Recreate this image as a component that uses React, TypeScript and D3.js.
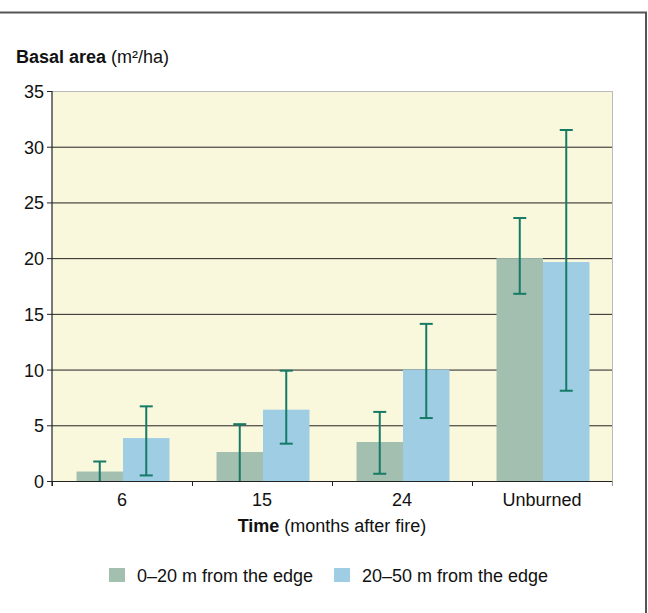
import { useEffect, useRef } from 'react'
import * as d3 from 'd3'

const CATEGORIES = ['6', '15', '24', 'Unburned']
const SERIES = ['0–20 m from the edge', '20–50 m from the edge']
const COLORS = ['#a3bfb0', '#9ecde4']

// mean, lower error bound, upper error bound per category
const NEAR_EDGE = [0.85, 2.6, 3.5, 20.0]
const NEAR_LOW = [0, 0, 0.65, 16.8]
const NEAR_HIGH = [1.75, 5.1, 6.2, 23.6]

const FAR_EDGE = [3.85, 6.4, 10.0, 19.65]
const FAR_LOW = [0.5, 3.35, 5.65, 8.1]
const FAR_HIGH = [6.7, 9.9, 14.1, 31.5]

const Y_TICKS = [0, 5, 10, 15, 20, 25, 30, 35]

const W = 648
const H = 613
const FONT = '"Liberation Sans", Arial, Helvetica, sans-serif'
const FS = 18

export default function App() {
  const svgRef = useRef<SVGSVGElement>(null)

  useEffect(() => {
    if (!svgRef.current) return
    const svg = d3.select(svgRef.current)
    svg.selectAll('*').remove()

    const left = 52
    const right = 612
    const top = 91
    const bottom = 481

    const x = d3.scaleBand<string>().domain(CATEGORIES).range([left, right]).paddingInner(0).paddingOuter(0)
    const inner = d3.scaleBand<number>().domain([0, 1]).range([0, 93]).padding(0)
    const y = d3.scaleLinear().domain([0, 35]).range([bottom, top])
    const groupX = (c: string) => x(c)! + (x.bandwidth() - 93) / 2 + 1

    // frame
    svg.append('path')
      .attr('d', `M0,12.5 H646 V${H}`)
      .attr('fill', 'none')
      .attr('stroke', '#555')
      .attr('stroke-width', 2)

    // plot background
    svg.append('rect')
      .attr('x', left).attr('y', top)
      .attr('width', right - left).attr('height', bottom - top)
      .attr('fill', '#faf8dc')

    // grid lines
    svg.append('g')
      .selectAll('line')
      .data(Y_TICKS.filter(t => t > 0))
      .join('line')
      .attr('x1', left).attr('x2', right)
      .attr('y1', d => y(d) + 0.5).attr('y2', d => y(d) + 0.5)
      .attr('stroke', d => (d === 35 ? '#bbb' : '#222'))
      .attr('stroke-width', 1)

    // right edge of plot
    svg.append('line')
      .attr('x1', right + 0.5).attr('x2', right + 0.5)
      .attr('y1', top).attr('y2', bottom)
      .attr('stroke', '#bbb')

    const series = [
      { values: NEAR_EDGE, low: NEAR_LOW, high: NEAR_HIGH },
      { values: FAR_EDGE, low: FAR_LOW, high: FAR_HIGH },
    ]

    series.forEach((s, si) => {
      svg.append('g')
        .selectAll('rect')
        .data(s.values)
        .join('rect')
        .attr('x', (_, i) => groupX(CATEGORIES[i]) + inner(si)!)
        .attr('y', d => y(d))
        .attr('width', inner.bandwidth())
        .attr('height', d => bottom - y(d))
        .attr('fill', COLORS[si])
    })

    // error bars
    series.forEach((s, si) => {
      const g = svg.append('g').attr('stroke', '#157a66').attr('stroke-width', 2)
      s.values.forEach((_, i) => {
        const cx = groupX(CATEGORIES[i]) + inner(si)! + inner.bandwidth() / 2
        g.append('line')
          .attr('x1', cx).attr('x2', cx)
          .attr('y1', y(s.low[i])).attr('y2', y(s.high[i]))
        g.append('line')
          .attr('x1', cx - 6.5).attr('x2', cx + 6.5)
          .attr('y1', y(s.high[i])).attr('y2', y(s.high[i]))
        if (s.low[i] > 0) {
          g.append('line')
            .attr('x1', cx - 6.5).attr('x2', cx + 6.5)
            .attr('y1', y(s.low[i])).attr('y2', y(s.low[i]))
        }
      })
    })

    // y axis
    const yAxis = svg.append('g')
    yAxis.append('line')
      .attr('x1', left).attr('x2', left)
      .attr('y1', top).attr('y2', bottom + 5)
      .attr('stroke', '#222').attr('stroke-width', 1.2)
    yAxis.selectAll('line.tick')
      .data(Y_TICKS)
      .join('line')
      .attr('class', 'tick')
      .attr('x1', left - 5).attr('x2', left)
      .attr('y1', d => y(d) + 0.5).attr('y2', d => y(d) + 0.5)
      .attr('stroke', '#222')
    yAxis.selectAll('text')
      .data(Y_TICKS)
      .join('text')
      .attr('x', left - 8)
      .attr('y', d => y(d) + 7)
      .attr('text-anchor', 'end')
      .attr('font-family', FONT)
      .attr('font-size', FS)
      .attr('fill', '#111')
      .text(d => d)

    // x axis
    const xAxis = svg.append('g')
    xAxis.append('line')
      .attr('x1', left).attr('x2', right)
      .attr('y1', bottom + 0.5).attr('y2', bottom + 0.5)
      .attr('stroke', '#222').attr('stroke-width', 1.2)
    const boundaries = CATEGORIES.map(c => x(c)!).concat([right])
    xAxis.selectAll('line.tick')
      .data(boundaries)
      .join('line')
      .attr('class', 'tick')
      .attr('x1', d => d + 0.5).attr('x2', d => d + 0.5)
      .attr('y1', bottom).attr('y2', bottom + 5)
      .attr('stroke', (_, i) => (i === boundaries.length - 1 ? '#999' : '#222'))
    xAxis.selectAll('text')
      .data(CATEGORIES)
      .join('text')
      .attr('x', d => x(d)! + x.bandwidth() / 2)
      .attr('y', 506)
      .attr('text-anchor', 'middle')
      .attr('font-family', FONT)
      .attr('font-size', FS)
      .attr('fill', '#111')
      .text(d => d)

    // axis titles
    const yTitle = svg.append('text')
      .attr('x', 16).attr('y', 63)
      .attr('font-family', FONT)
      .attr('font-size', FS)
      .attr('fill', '#111')
    yTitle.append('tspan').attr('font-weight', 'bold').text('Basal area')
    yTitle.append('tspan').text(' (m²/ha)')

    const xTitle = svg.append('text')
      .attr('x', 332).attr('y', 532)
      .attr('text-anchor', 'middle')
      .attr('font-family', FONT)
      .attr('font-size', FS)
      .attr('fill', '#111')
    xTitle.append('tspan').attr('font-weight', 'bold').text('Time')
    xTitle.append('tspan').text(' (months after fire)')

    // legend
    const legendX = [109, 334]
    SERIES.forEach((name, i) => {
      svg.append('rect')
        .attr('x', legendX[i]).attr('y', 568)
        .attr('width', 16).attr('height', 14)
        .attr('fill', COLORS[i])
      svg.append('text')
        .attr('x', legendX[i] + 28).attr('y', 582)
        .attr('font-family', FONT)
        .attr('font-size', FS)
        .attr('fill', '#111')
        .text(name)
    })
  }, [])

  return (
    <svg
      ref={svgRef}
      width={W}
      height={H}
      style={{ position: 'absolute', left: 0, top: 0, background: '#fff' }}
    />
  )
}
